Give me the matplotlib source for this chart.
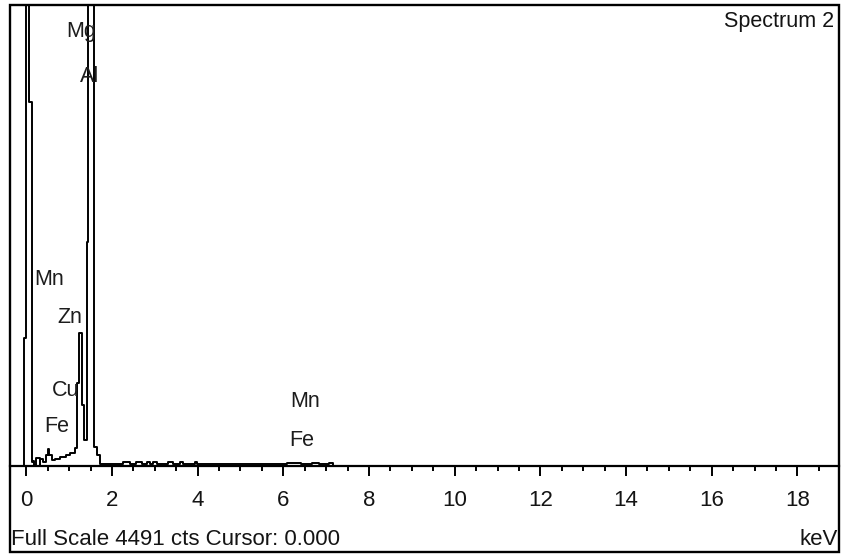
import numpy as np
import matplotlib.pyplot as plt
from matplotlib.patches import Rectangle

plt.rcParams['font.family'] = ['Liberation Sans', 'DejaVu Sans']

# spectrum as channel left edges (keV) and counts, drawn as steps
energy_kev = [-0.38, -0.06, -0.01, 0.06, 0.13, 0.15, 0.19, 0.22, 0.31, 0.33,
              0.40, 0.45, 0.50, 0.54, 0.59, 0.66, 0.78, 0.92, 1.01, 1.13,
              1.19, 1.24, 1.30, 1.34, 1.41, 1.44, 1.58, 1.64, 1.71, 2.25,
              2.41, 2.57, 2.71, 2.81, 2.88, 2.95, 3.06, 3.30, 3.42, 3.58,
              3.65, 3.93, 3.99, 6.09, 6.42, 6.68, 6.84, 7.07, 7.15, 18.97]
counts = [0, 1250, 9000, 3545, 40, 50, 10, 80, 0, 70,
          40, 105, 165, 105, 60, 70, 90, 105, 125, 175,
          810, 1295, 595, 255, 2180, 9000, 185, 105, 20, 40,
          20, 40, 20, 40, 20, 40, 20, 40, 20, 35,
          20, 35, 15, 30, 15, 30, 15, 30, 0, 0]

full_scale = 4491
x_min, x_max = -0.38, 18.97
major_ticks = np.arange(0, 19, 2)
minor_ticks = np.arange(0, 19, 0.5)

peak_labels = ['Mg', 'Al', 'Mn', 'Zn', 'Cu', 'Fe', 'Mn', 'Fe']
label_kev = [1.29, 1.48, 0.54, 1.01, 0.92, 0.71, 6.52, 6.44]
label_cts = [4237, 3799, 1812, 1442, 740, 380, 633, 253]

fig = plt.figure(figsize=(8.45, 5.55), dpi=100)
W, H = 845, 555
ax = fig.add_axes([10 / W, (H - 466) / H, 829 / W, 461 / H])

ax.step(energy_kev, counts, where='post', color='black', lw=1.4)
ax.set_xlim(x_min, x_max)
ax.set_ylim(0, full_scale)

for s in ['left', 'right', 'top']:
    ax.spines[s].set_visible(False)
ax.spines['bottom'].set_linewidth(1.6)
ax.set_yticks([])
ax.set_xticks(major_ticks)
ax.set_xticks(minor_ticks, minor=True)
ax.tick_params(axis='x', which='major', direction='out', length=7, width=1.4,
               pad=10, labelsize=16, labelcolor='#141414')
ax.tick_params(axis='x', which='minor', direction='out', length=3.5, width=1.4)

for lab, xk, yc in zip(peak_labels, label_kev, label_cts):
    ax.text(xk, yc, lab, ha='center', va='center', fontsize=15.5, color='#1c1c1c')

ax.text(0.994, 0.965, 'Spectrum 2', transform=ax.transAxes, ha='right', va='center',
        fontsize=15.5, color='#141414')

fig.text(11 / W, (H - 545) / H, 'Full Scale %d cts Cursor: 0.000' % full_scale,
         ha='left', va='baseline', fontsize=16, color='#141414')
fig.text(838 / W, (H - 545) / H, 'keV', ha='right', va='baseline',
         fontsize=16, color='#141414')

frame = Rectangle((10 / W, (H - 552) / H), 829 / W, 547 / H, transform=fig.transFigure,
                  fill=False, edgecolor='black', lw=1.7)
fig.patches.append(frame)

plt.savefig('out.png', dpi=100)
